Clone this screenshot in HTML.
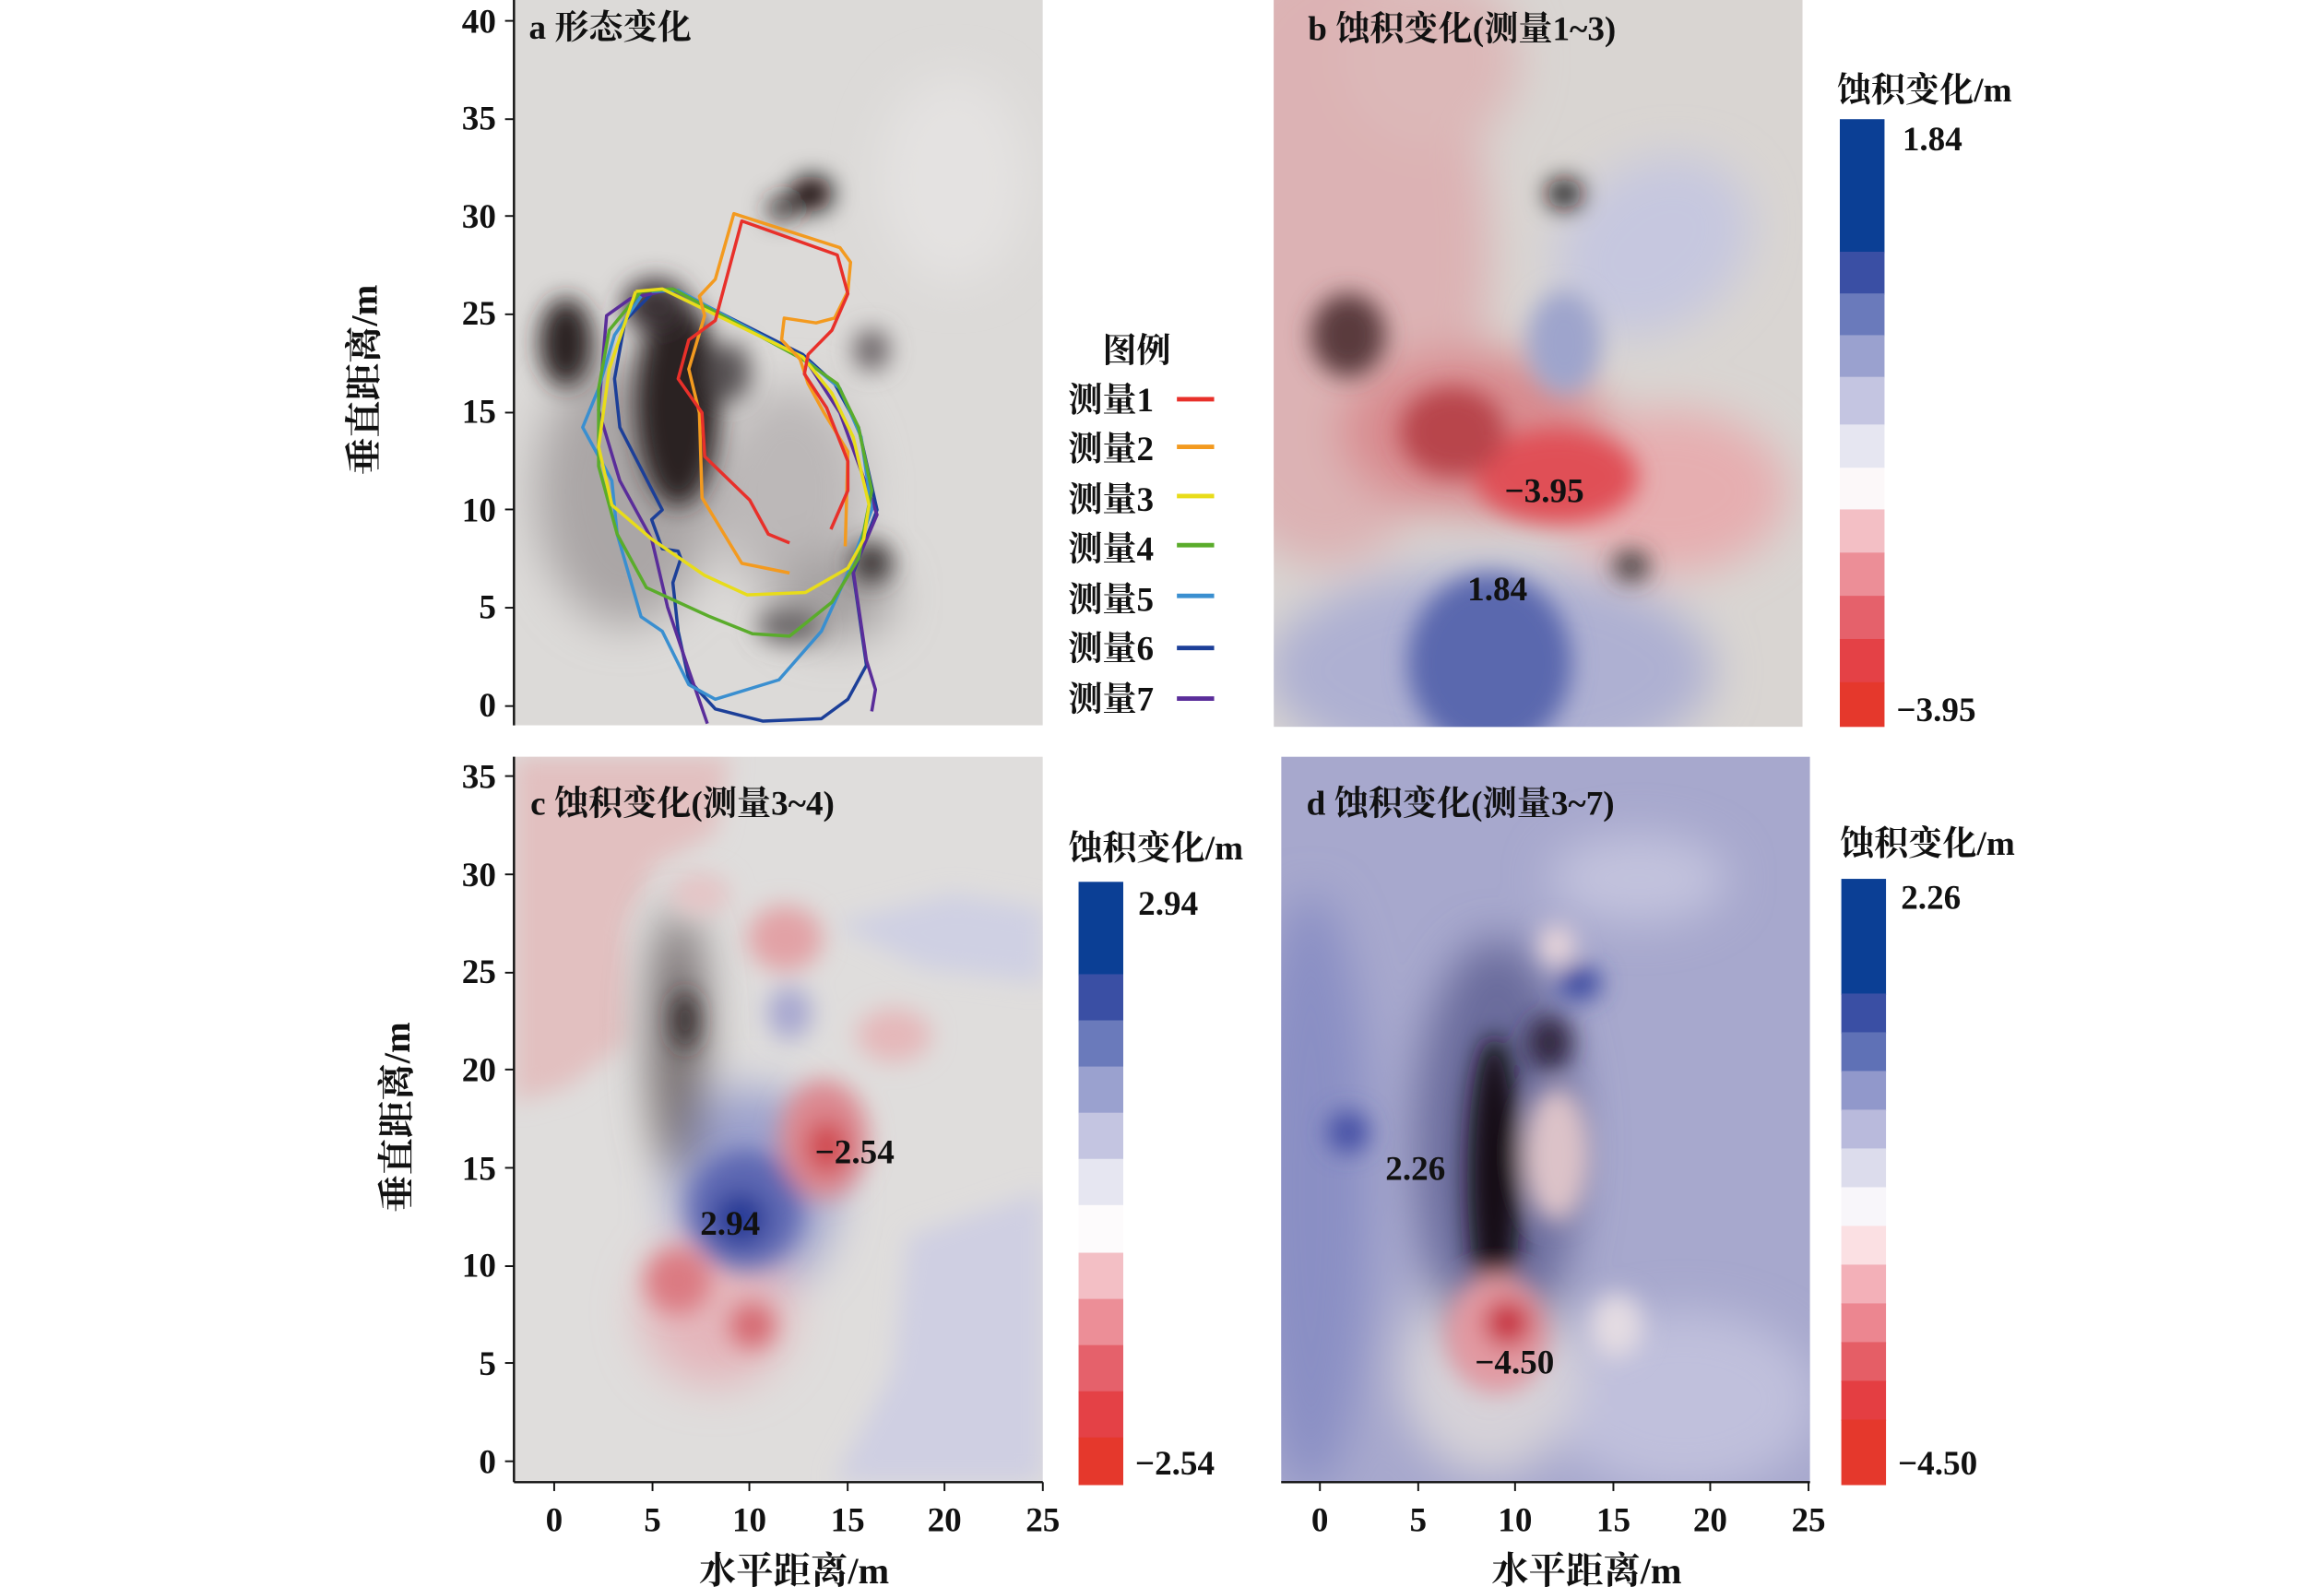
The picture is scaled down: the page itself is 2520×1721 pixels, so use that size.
<!DOCTYPE html>
<html><head><meta charset="utf-8"><style>html,body{margin:0;padding:0;background:#fff}svg{display:block}
text{font-family:"Liberation Serif","Noto Serif CJK SC",serif;fill:#111;font-weight:bold}</style></head><body>
<svg width="2520" height="1721" viewBox="0 0 1560 1065.4" xmlns="http://www.w3.org/2000/svg">
<defs>
<filter id="b8" x="-50%" y="-50%" width="200%" height="200%"><feGaussianBlur stdDeviation="8"/></filter>
<filter id="b15" x="-50%" y="-50%" width="200%" height="200%"><feGaussianBlur stdDeviation="15"/></filter>
<clipPath id="ca"><rect x="345" y="0" width="355" height="487"/></clipPath>
<clipPath id="cb"><rect x="855" y="0" width="355" height="488"/></clipPath>
<clipPath id="cc"><rect x="345" y="508" width="355" height="487"/></clipPath>
<clipPath id="cd"><rect x="860" y="508" width="355" height="487"/></clipPath>
</defs>

<!-- Panel a -->
<g clip-path="url(#ca)">
<rect x="345" y="0" width="355" height="487" fill="#dcdad8"/>
<g filter="url(#b15)">
<ellipse cx="420" cy="330" rx="60" ry="90" fill="#aaa6a6"/>
<ellipse cx="530" cy="330" rx="50" ry="70" fill="#bcb8b8"/>
<ellipse cx="560" cy="400" rx="40" ry="30" fill="#a4a0a0"/>
<ellipse cx="640" cy="120" rx="50" ry="70" fill="#e4e2e1"/>
</g>
<g filter="url(#b8)">
<ellipse cx="380" cy="230" rx="18" ry="30" fill="#2a2224"/>
<ellipse cx="455" cy="270" rx="28" ry="70" fill="#2a2224"/>
<ellipse cx="440" cy="205" rx="22" ry="18" fill="#3a3234"/>
<ellipse cx="545" cy="130" rx="14" ry="12" fill="#0a0406"/>
<ellipse cx="525" cy="140" rx="10" ry="8" fill="#2a2224"/>
<ellipse cx="585" cy="378" rx="14" ry="14" fill="#3a3436"/>
<ellipse cx="585" cy="235" rx="12" ry="14" fill="#6a6466"/>
<ellipse cx="490" cy="250" rx="14" ry="20" fill="#5a5456"/>
<ellipse cx="530" cy="420" rx="22" ry="12" fill="#6a6668"/>
</g>
</g>
<g transform="translate(216.7,0) scale(0.356,0.326)" fill="none" stroke-linejoin="round">
<polyline vector-effect="non-scaling-stroke" stroke="#1c3f98" stroke-width="3.5" points="630,600 665,598 905,730 965,790 1010,880 1045,1050 1000,1180 1025,1370 990,1440 940,1480 830,1485 740,1460 690,1400 670,1300 660,1200 675,1150 670,1135 640,1130 620,1070 640,1050 560,880 550,780 570,660 620,605"/>
<polyline vector-effect="non-scaling-stroke" stroke="#5a2d9a" stroke-width="3.5" points="725,1490 690,1380 650,1250 620,1110 560,990 520,845 535,650 580,615 660,595 910,740 975,850 1045,1060 1000,1175 1025,1360 1042,1420 1035,1465"/>
<polyline vector-effect="non-scaling-stroke" stroke="#3a8fd0" stroke-width="3.5" points="620,600 670,598 910,740 975,800 1015,900 1035,1050 990,1180 940,1300 860,1400 740,1440 690,1410 640,1300 600,1270 555,1100 545,990 490,880 520,800 550,690 600,610"/>
<polyline vector-effect="non-scaling-stroke" stroke="#5aac2b" stroke-width="3.5" points="600,600 660,595 905,740 970,790 1010,880 1035,1010 1010,1150 960,1240 880,1310 810,1305 730,1270 610,1210 555,1100 520,960 520,800 540,680 600,600"/>
<polyline vector-effect="non-scaling-stroke" stroke="#e8dc1a" stroke-width="3.5" points="590,600 640,595 905,735 960,810 1000,900 1030,1040 1020,1110 990,1170 910,1220 800,1225 720,1185 620,1110 545,1040 520,920 540,760 590,600"/>
<polyline vector-effect="non-scaling-stroke" stroke="#f39a1f" stroke-width="3.5" points="880,1180 790,1160 715,1025 710,850 690,760 720,650 710,610 740,575 775,440 975,510 995,540 990,600 965,655 930,665 870,655 865,700 900,740 915,790 945,850 990,930 985,1125"/>
<polyline vector-effect="non-scaling-stroke" stroke="#e8302a" stroke-width="3.5" points="880,1118 840,1100 805,1030 720,940 715,850 670,780 690,700 740,660 790,455 970,525 990,605 960,680 915,730 908,770 950,840 990,950 990,1010 958,1090"/>
</g>
<line x1="345" y1="0" x2="345" y2="487" stroke="#111" stroke-width="1.5"/>
<g font-size="23" text-anchor="end">
<text x="333" y="22">40</text><text x="333" y="87">35</text><text x="333" y="153">30</text><text x="333" y="218">25</text><text x="333" y="284">15</text><text x="333" y="350">10</text><text x="333" y="415">5</text><text x="333" y="481">0</text>
</g>
<g stroke="#111" stroke-width="1.2"><line x1="339" x2="345" y1="14" y2="14"/><line x1="339" x2="345" y1="80" y2="80"/><line x1="339" x2="345" y1="145" y2="145"/><line x1="339" x2="345" y1="211" y2="211"/><line x1="339" x2="345" y1="277" y2="277"/><line x1="339" x2="345" y1="342" y2="342"/><line x1="339" x2="345" y1="408" y2="408"/><line x1="339" x2="345" y1="474" y2="474"/></g>
<text x="355" y="26" font-size="23">a 形态变化</text>

<!-- legend -->
<text x="763" y="243" font-size="23" text-anchor="middle">图例</text>
<g font-size="23">
<text x="717" y="276">测量1</text><text x="717" y="309">测量2</text><text x="717" y="343">测量3</text><text x="717" y="376">测量4</text><text x="717" y="410">测量5</text><text x="717" y="443">测量6</text><text x="717" y="477">测量7</text>
</g>
<g stroke-width="3">
<line x1="790" x2="815" y1="268" y2="268" stroke="#e8302a"/><line x1="790" x2="815" y1="300" y2="300" stroke="#f39a1f"/><line x1="790" x2="815" y1="333" y2="333" stroke="#e8dc1a"/><line x1="790" x2="815" y1="366" y2="366" stroke="#5aac2b"/><line x1="790" x2="815" y1="400" y2="400" stroke="#3a8fd0"/><line x1="790" x2="815" y1="435" y2="435" stroke="#1c3f98"/><line x1="790" x2="815" y1="469" y2="469" stroke="#5a2d9a"/>
</g>

<!-- Panel b -->
<g clip-path="url(#cb)">
<rect x="855" y="0" width="355" height="488" fill="#d9d5d2"/>
<g filter="url(#b15)">
<ellipse cx="890" cy="170" rx="110" ry="210" fill="#dcb2b4"/>
<ellipse cx="960" cy="40" rx="60" ry="60" fill="#dcb8b8"/>
<ellipse cx="1000" cy="450" rx="150" ry="70" fill="#aeb0d2"/>
<ellipse cx="1110" cy="165" rx="70" ry="55" fill="#c6c7df" transform="rotate(-35 1110 165)"/>
<ellipse cx="1120" cy="330" rx="80" ry="55" fill="#e6aeb0"/>
<ellipse cx="990" cy="290" rx="90" ry="55" fill="#d88a8e"/>
</g>
<g filter="url(#b8)">
<ellipse cx="1000" cy="445" rx="55" ry="60" fill="#5a68ae"/>
<ellipse cx="1045" cy="320" rx="55" ry="32" fill="#e05056"/>
<ellipse cx="975" cy="290" rx="35" ry="30" fill="#b8454c"/>
<ellipse cx="1050" cy="230" rx="25" ry="35" fill="#9ea4cc"/>
<ellipse cx="1050" cy="130" rx="12" ry="10" fill="#140c0e"/>
<ellipse cx="905" cy="225" rx="25" ry="28" fill="#5a3a3e"/>
<ellipse cx="1095" cy="380" rx="12" ry="10" fill="#3a3436"/>
</g>
</g>
<text x="878" y="27" font-size="23">b 蚀积变化(测量1~3)</text>
<text x="1010" y="337" font-size="23">−3.95</text>
<text x="985" y="403" font-size="23">1.84</text>

<!-- colorbar b -->
<g>
<rect x="1235" y="80" width="30" height="90" fill="#0b3f95"/>
<rect x="1235" y="169" width="30" height="29" fill="#3a4fa4"/>
<rect x="1235" y="197" width="30" height="29" fill="#6a7abb"/>
<rect x="1235" y="225" width="30" height="29" fill="#9aa1cf"/>
<rect x="1235" y="253" width="30" height="33" fill="#c4c5e1"/>
<rect x="1235" y="285" width="30" height="30" fill="#e6e6f1"/>
<rect x="1235" y="314" width="30" height="29" fill="#fcf8f9"/>
<rect x="1235" y="342" width="30" height="30" fill="#f3bfc5"/>
<rect x="1235" y="371" width="30" height="30" fill="#ec8e97"/>
<rect x="1235" y="400" width="30" height="30" fill="#e5616b"/>
<rect x="1235" y="429" width="30" height="30" fill="#e44146"/>
<rect x="1235" y="458" width="30" height="30" fill="#e5382c"/>
</g>
<text x="1233" y="68" font-size="23">蚀积变化/m</text>
<text x="1277" y="101" font-size="23">1.84</text>
<text x="1273" y="484" font-size="23">−3.95</text>

<!-- Panel c -->
<g clip-path="url(#cc)">
<rect x="345" y="508" width="355" height="487" fill="#dfdddc"/>
<g filter="url(#b8)">
<path d="M345,508 L490,508 L480,560 L440,580 L420,620 L420,700 L380,730 L345,740 Z" fill="#e2c0c0"/>
<path d="M610,830 L700,800 L700,995 L560,995 L600,920 Z" fill="#cfcfe2"/>
<path d="M560,620 L640,600 L700,610 L700,660 L620,650 Z" fill="#cfd0e3"/>
</g>
<g filter="url(#b15)">
<ellipse cx="505" cy="800" rx="55" ry="70" fill="#9ba0cc"/>
<ellipse cx="480" cy="880" rx="50" ry="50" fill="#e4b6bb"/>
<ellipse cx="455" cy="700" rx="18" ry="90" fill="#6e6668"/>
</g>
<g filter="url(#b8)">
<ellipse cx="500" cy="812" rx="38" ry="40" fill="#5d68b2"/>
<ellipse cx="497" cy="818" rx="18" ry="18" fill="#283a96"/>
<ellipse cx="553" cy="765" rx="30" ry="40" fill="#dc8890"/>
<ellipse cx="555" cy="770" rx="14" ry="18" fill="#d0474e"/>
<ellipse cx="455" cy="860" rx="22" ry="22" fill="#db7a82"/>
<ellipse cx="505" cy="890" rx="15" ry="15" fill="#d56870"/>
<ellipse cx="527" cy="630" rx="25" ry="22" fill="#e2a2a6"/>
<ellipse cx="460" cy="685" rx="8" ry="20" fill="#2a2224"/>
<ellipse cx="470" cy="600" rx="20" ry="14" fill="#e5c5c6"/>
<ellipse cx="530" cy="680" rx="15" ry="18" fill="#a8a8d0"/>
<ellipse cx="600" cy="695" rx="25" ry="18" fill="#e5b8ba"/>
</g>
</g>
<line x1="345" y1="508" x2="345" y2="995" stroke="#111" stroke-width="1.5"/>
<line x1="345" y1="995" x2="700" y2="995" stroke="#111" stroke-width="1.5"/>
<g font-size="23" text-anchor="end">
<text x="333" y="529">35</text><text x="333" y="595">30</text><text x="333" y="660">25</text><text x="333" y="726">20</text><text x="333" y="792">15</text><text x="333" y="857">10</text><text x="333" y="923">5</text><text x="333" y="989">0</text>
</g>
<g stroke="#111" stroke-width="1.2"><line x1="339" x2="345" y1="521" y2="521"/><line x1="339" x2="345" y1="587" y2="587"/><line x1="339" x2="345" y1="653" y2="653"/><line x1="339" x2="345" y1="718" y2="718"/><line x1="339" x2="345" y1="784" y2="784"/><line x1="339" x2="345" y1="850" y2="850"/><line x1="339" x2="345" y1="915" y2="915"/><line x1="339" x2="345" y1="981" y2="981"/>
<line x1="372" x2="372" y1="995" y2="1001"/><line x1="438" x2="438" y1="995" y2="1001"/><line x1="503" x2="503" y1="995" y2="1001"/><line x1="569" x2="569" y1="995" y2="1001"/><line x1="634" x2="634" y1="995" y2="1001"/><line x1="700" x2="700" y1="995" y2="1001"/></g>
<g font-size="23" text-anchor="middle">
<text x="372" y="1028">0</text><text x="438" y="1028">5</text><text x="503" y="1028">10</text><text x="569" y="1028">15</text><text x="634" y="1028">20</text><text x="700" y="1028">25</text>
</g>
<text x="356" y="547" font-size="23">c 蚀积变化(测量3~4)</text>
<text x="547" y="781" font-size="23">−2.54</text>
<text x="470" y="829" font-size="23">2.94</text>

<!-- colorbar c -->
<g>
<rect x="724" y="592" width="30" height="63" fill="#0b3f95"/>
<rect x="724" y="654" width="30" height="32" fill="#3a4fa4"/>
<rect x="724" y="685" width="30" height="32" fill="#6a7abb"/>
<rect x="724" y="716" width="30" height="32" fill="#9aa1cf"/>
<rect x="724" y="747" width="30" height="32" fill="#c4c5e1"/>
<rect x="724" y="778" width="30" height="32" fill="#e6e6f1"/>
<rect x="724" y="809" width="30" height="33" fill="#fdfbfc"/>
<rect x="724" y="841" width="30" height="32" fill="#f3bfc5"/>
<rect x="724" y="872" width="30" height="32" fill="#ec8e97"/>
<rect x="724" y="903" width="30" height="32" fill="#e5616b"/>
<rect x="724" y="934" width="30" height="32" fill="#e44146"/>
<rect x="724" y="965" width="30" height="32" fill="#e5382c"/>
</g>
<text x="717" y="577" font-size="23">蚀积变化/m</text>
<text x="764" y="614" font-size="23">2.94</text>
<text x="762" y="990" font-size="23">−2.54</text>

<!-- Panel d -->
<g clip-path="url(#cd)">
<rect x="860" y="508" width="355" height="487" fill="#a7a8cd"/>
<g filter="url(#b15)">
<ellipse cx="880" cy="800" rx="40" ry="200" fill="#8a8fc4"/>
<ellipse cx="1130" cy="940" rx="90" ry="60" fill="#c0c0dc"/>
<ellipse cx="1000" cy="920" rx="60" ry="70" fill="#d6d2d8"/>
<ellipse cx="1100" cy="590" rx="60" ry="30" fill="#c2c2dd"/>
<ellipse cx="1005" cy="770" rx="55" ry="140" fill="#6a6c9c"/>
</g>
<g filter="url(#b8)">
<ellipse cx="1045" cy="775" rx="22" ry="45" fill="#dcc2c8"/>
<ellipse cx="1003" cy="790" rx="18" ry="95" fill="#150d18"/>
<ellipse cx="1005" cy="895" rx="35" ry="40" fill="#e29aa2"/>
<ellipse cx="1012" cy="888" rx="16" ry="16" fill="#c83040"/>
<ellipse cx="905" cy="760" rx="14" ry="14" fill="#4550a5"/>
<ellipse cx="1045" cy="635" rx="12" ry="14" fill="#ecd8da"/>
<ellipse cx="1040" cy="700" rx="15" ry="18" fill="#302840"/>
<ellipse cx="1085" cy="890" rx="18" ry="22" fill="#e4dce2"/>
<ellipse cx="1060" cy="660" rx="15" ry="12" fill="#3a4aa0"/>
</g>
</g>
<line x1="860" y1="995" x2="1215" y2="995" stroke="#111" stroke-width="1.5"/>
<g stroke="#111" stroke-width="1.2">
<line x1="886" x2="886" y1="995" y2="1001"/><line x1="952" x2="952" y1="995" y2="1001"/><line x1="1017" x2="1017" y1="995" y2="1001"/><line x1="1083" x2="1083" y1="995" y2="1001"/><line x1="1148" x2="1148" y1="995" y2="1001"/><line x1="1214" x2="1214" y1="995" y2="1001"/></g>
<g font-size="23" text-anchor="middle">
<text x="886" y="1028">0</text><text x="952" y="1028">5</text><text x="1017" y="1028">10</text><text x="1083" y="1028">15</text><text x="1148" y="1028">20</text><text x="1214" y="1028">25</text>
</g>
<text x="877" y="547" font-size="23">d 蚀积变化(测量3~7)</text>
<text x="930" y="792" font-size="23">2.26</text>
<text x="990" y="922" font-size="23">−4.50</text>

<!-- colorbar d -->
<g>
<rect x="1236" y="590" width="30" height="78" fill="#0b3f95"/>
<rect x="1236" y="667" width="30" height="27" fill="#3a4fa4"/>
<rect x="1236" y="693" width="30" height="27" fill="#5f71b6"/>
<rect x="1236" y="719" width="30" height="27" fill="#9198cb"/>
<rect x="1236" y="745" width="30" height="27" fill="#b9badc"/>
<rect x="1236" y="771" width="30" height="27" fill="#dcdcec"/>
<rect x="1236" y="797" width="30" height="27" fill="#f8f6fa"/>
<rect x="1236" y="823" width="30" height="27" fill="#fbe0e3"/>
<rect x="1236" y="849" width="30" height="27" fill="#f3b0b8"/>
<rect x="1236" y="875" width="30" height="27" fill="#ec8690"/>
<rect x="1236" y="901" width="30" height="27" fill="#e55e66"/>
<rect x="1236" y="927" width="30" height="27" fill="#e43e42"/>
<rect x="1236" y="953" width="30" height="44" fill="#e5382c"/>
</g>
<text x="1235" y="574" font-size="23">蚀积变化/m</text>
<text x="1276" y="610" font-size="23">2.26</text>
<text x="1274" y="990" font-size="23">−4.50</text>

<!-- axis titles -->
<text x="0" y="0" font-size="25" text-anchor="middle" transform="translate(253,255) rotate(-90)">垂直距离/m</text>
<text x="0" y="0" font-size="25" text-anchor="middle" transform="translate(275,750) rotate(-90)">垂直距离/m</text>
<text x="533" y="1063" font-size="25" text-anchor="middle">水平距离/m</text>
<text x="1065" y="1063" font-size="25" text-anchor="middle">水平距离/m</text>
</svg>
</body></html>
